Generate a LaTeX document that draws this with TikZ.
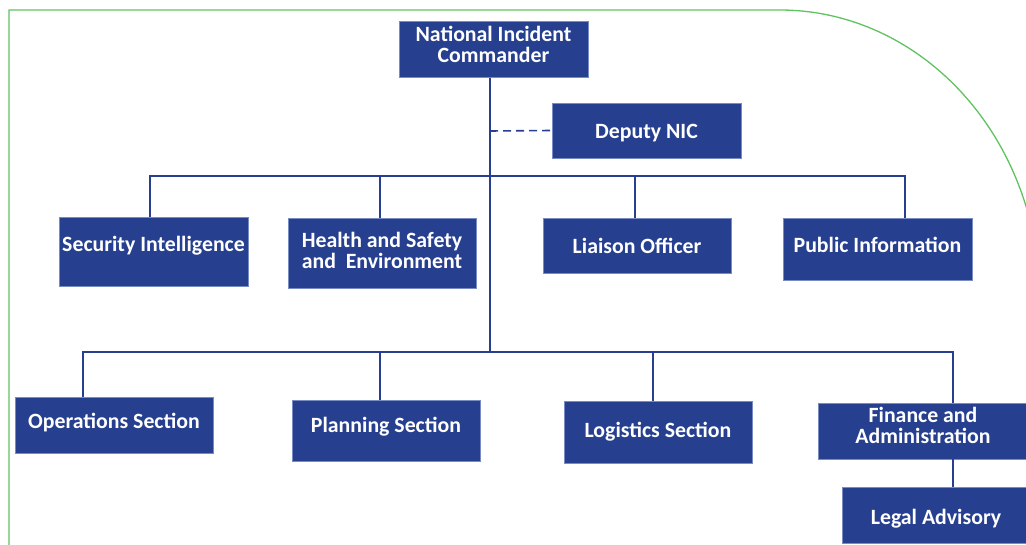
\documentclass[tikz,border=0pt]{standalone}
\usepackage{fontspec}
\setmainfont{Carlito}
\definecolor{boxblue}{RGB}{38,64,143}
\definecolor{boxedge}{RGB}{120,140,195}
\definecolor{linkblue}{RGB}{40,62,145}
\definecolor{framegreen}{RGB}{95,195,95}
\newcommand{\up}[2]{\raisebox{#1pt}{#2}}
\begin{document}
\begin{tikzpicture}[x=1pt,y=-1pt,
  orgbox/.style={fill=boxblue,draw=boxedge,line width=0.6pt,text=white,
    font=\bfseries\fontsize{21.8}{21}\selectfont,align=center,inner sep=0pt},
  oneline/.style={orgbox,text height=15pt,text depth=1pt},
  twoline/.style={orgbox,text height=#1,text depth=1pt},
  link/.style={draw=linkblue,line width=1.8pt},
  dotlink/.style={draw=linkblue,line width=1.6pt,dash pattern=on 8pt off 5pt}]
\useasboundingbox (0,0) rectangle (1026,545);
\clip (0,0) rectangle (1026,545);

% outer frame with the rounded upper-right corner
\draw[framegreen,line width=1.3pt] (9,546) -- (9,10) -- (780,10)
  -- plot[domain=90:0,samples=80,smooth] ({780+260*cos(\x)},{300-290*sin(\x)});

% boxes
\node[twoline=26.2pt,minimum width=189pt,minimum height=56pt] (nic) at (493.5,49.5) {National Incident\\Commander};
\node[oneline,minimum width=189pt,minimum height=55pt] (dep) at (646.5,130.5) {\up{-1}{Deputy NIC}};

\node[oneline,minimum width=189pt,minimum height=69pt] (sec) at (153.5,251.5) {\up{7}{Security Intelligence}};
\node[twoline=32.2pt,minimum width=188pt,minimum height=70pt] (hse) at (382,253) {Health and Safety\\and\ \ Environment};
\node[oneline,minimum width=188pt,minimum height=55pt] (lia) at (637,245.5) {\up{-1.5}{Liaison Officer}};
\node[oneline,minimum width=189pt,minimum height=62pt] (pub) at (877.5,249) {\up{3}{Public Information}};

\node[oneline,minimum width=198pt,minimum height=56pt] (ops) at (114,425) {\up{4}{Operations Section}};
\node[oneline,minimum width=188pt,minimum height=61pt] (pla) at (386,430.5) {\up{5}{Planning Section}};
\node[oneline,minimum width=188pt,minimum height=62pt] (log) at (658,432) {\up{2}{Logistics Section}};
\node[twoline=26.2pt,minimum width=210pt,minimum height=56pt] (fin) at (923,431) {Finance and\\Administration};
\node[oneline,minimum width=188pt,minimum height=56pt] (leg) at (936,515) {\up{-2.5}{Legal Advisory}};

% bus coordinates
\coordinate (trunk) at (490,352);
\coordinate (dash) at (490,131);
\coordinate (u1) at (150,176);
\coordinate (u2) at (380,176);
\coordinate (u3) at (635,176);
\coordinate (u4) at (905,176);
\coordinate (l1) at (83,352);
\coordinate (l2) at (380,352);
\coordinate (l3) at (653,352);
\coordinate (l4) at (953,352);

% connectors
\draw[link] (nic.south -| trunk) -- (trunk);
\draw[dotlink] (dash) -- (dep.west);
\draw[link] (u1 |- sec.north) -- (u1) -- (u4) -- (u4 |- pub.north);
\draw[link] (u2) -- (u2 |- hse.north);
\draw[link] (u3) -- (u3 |- lia.north);
\draw[link] (l1 |- ops.north) -- (l1) -- (l4) -- (l4 |- fin.north);
\draw[link] (l2) -- (l2 |- pla.north);
\draw[link] (l3) -- (l3 |- log.north);
\draw[link] (fin.south -| l4) -- (l4 |- leg.north);
\end{tikzpicture}
\end{document}
